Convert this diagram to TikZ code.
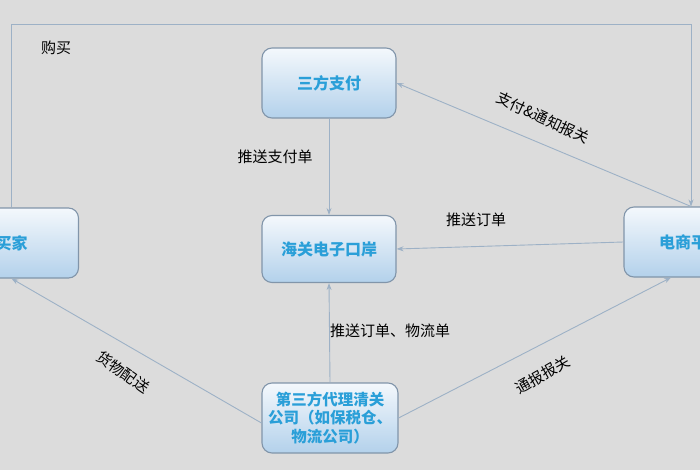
\documentclass[tikz,border=0pt]{standalone}
\usepackage{fontspec}
\setmainfont{Noto Sans CJK SC}
\usetikzlibrary{arrows.meta}
\definecolor{bg}{HTML}{DCDCDC}
\definecolor{edge}{HTML}{9DB1C6}
\definecolor{boxline}{HTML}{8195AA}
\definecolor{boxtop}{HTML}{F4F8FC}
\definecolor{boxbot}{HTML}{B3D1EB}
\definecolor{boxtext}{HTML}{2A9FD8}
\tikzset{
  box/.style={draw=boxline, line width=1.1pt, rounded corners=10pt,
    top color=boxtop, bottom color=boxbot, text=boxtext,
    font=\fontsize{16}{19}\selectfont\bfseries, align=center,
    minimum width=134pt, minimum height=70pt, inner sep=1pt},
  conn/.style={draw=edge, line width=0.9pt, -{Stealth[length=7pt,width=5pt]}},
  lbl/.style={font=\fontsize{15}{17}\selectfont, text=black, inner sep=0pt}
}
\begin{document}
\begin{tikzpicture}[x=1pt,y=-1pt]
\useasboundingbox (0,0) rectangle (700,470);
\fill[bg] (0,0) rectangle (700,470);
\node[box] (buyer) at (11.5,243) {买家};
\node[box] (pay) at (329,83) {三方支付};
\node[box, minimum height=67pt] (customs) at (329,249) {海关电子口岸};
\node[box] (ecom) at (691,242) {电商平台};
\node[box, minimum width=136pt, font=\fontsize{15.5}{18.5}\selectfont\bfseries] (agent) at (330,418) {第三方代理清关\\公司（如保税仓、\\物流公司）};
\coordinate (tl) at (11.5,24);
\coordinate (tr) at (691,24);
\draw[conn] (buyer.north) -- (tl) -- (tr) -- (ecom.north);
\draw[conn] (pay.south) -- (customs.north);
\draw[conn] (ecom.north) -- (pay.east);
\draw[conn] (ecom.west) -- (customs.east);
\draw[conn] (agent.north) -- (customs.south);
\draw[conn] ([yshift=-5pt]agent.west) -- (buyer.south);
\draw[conn] (agent.east) -- ([xshift=-20pt]ecom.south);
\node[lbl] (l1) at (56,48) {购买};
\node[lbl] (l2) at (275,157) {推送支付单};
\node[lbl, rotate=-25] (l3) at (543,118) {支付\&通知报关};
\node[lbl] (l4) at (476,220) {推送订单};
\node[lbl] (l5) at (390,331) {推送订单、物流单};
\node[lbl, rotate=-35] (l6) at (123,372) {货物配送};
\node[lbl, rotate=30] (l7) at (543,375) {通报报关};
\end{tikzpicture}
\end{document}
